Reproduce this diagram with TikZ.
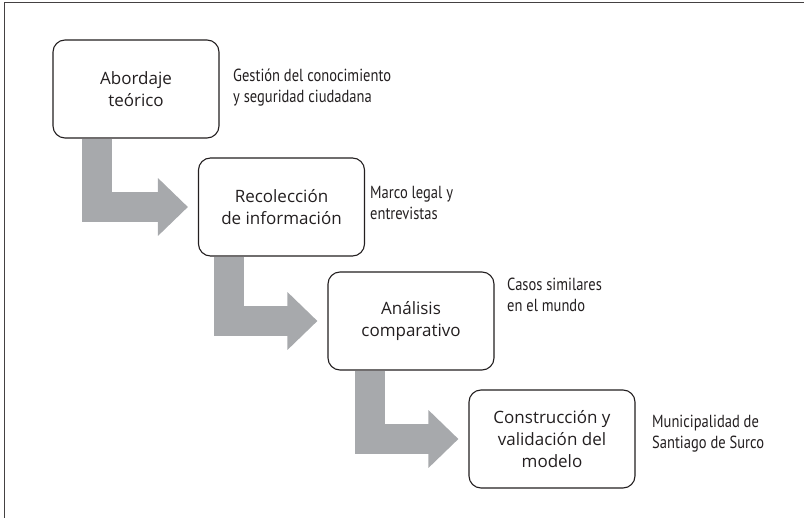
\documentclass[tikz,border=0pt]{standalone}
\usepackage{fontspec}
\setmainfont{Open Sans}
\newfontfamily\narrowfont[FakeStretch=0.83]{PT Sans}
\usetikzlibrary{arrows.meta}
\definecolor{flowgray}{HTML}{A7A9AC}
\definecolor{inkline}{HTML}{231F20}

\begin{document}
\begin{tikzpicture}[x=1pt,y=-1pt,
    stage node/.style={draw=inkline,line width=1.1pt,rounded corners=12pt,fill=white,minimum width=166pt,minimum height=98pt,align=center,text=inkline,font=\fontsize{17}{22}\selectfont},
    note node/.style={anchor=west,align=left,inner xsep=0pt,text=inkline,font=\narrowfont\fontsize{17.5}{21}\selectfont},
    flow/.style={draw=flowgray,line width=30pt,line join=miter,-{Triangle[length=30pt,width=56pt]},shorten >=10pt}]
                \useasboundingbox (0,0) rectangle (804,518);
                \draw[inkline!85,line width=1.5pt] (4.5,518) -- (4.5,2.5) -- (804,2.5);

                \node[stage node] (abordaje) at (136,89) {Abordaje\\teórico};
                \node[stage node] (recoleccion) at (281.5,207) {Recolección\\de información};
                \node[stage node] (analisis) at (411,321) {Análisis\\comparativo};
                \node[stage node] (modelo) at (552,439) {Construcción y\\validación del\\modelo};

                \node[note node] (gestion) at (233,88) {Gestión del conocimiento\\y seguridad ciudadana};
                \node[note node] (marco) at (370,203) {Marco legal y\\entrevistas};
                \node[note node] (casos) at (507,295) {Casos similares\\en el mundo};
                \node[note node] (surco) at (652,434) {Municipalidad de\\Santiago de Surco};

                \draw[flow] ([xshift=-39.5pt]abordaje.south) |- (recoleccion.west);
                \draw[flow] ([xshift=-53pt]recoleccion.south) |- (analisis.west);
                \draw[flow] ([xshift=-41.5pt]analisis.south) |- (modelo.west);

            \end{tikzpicture}
\end{document}
